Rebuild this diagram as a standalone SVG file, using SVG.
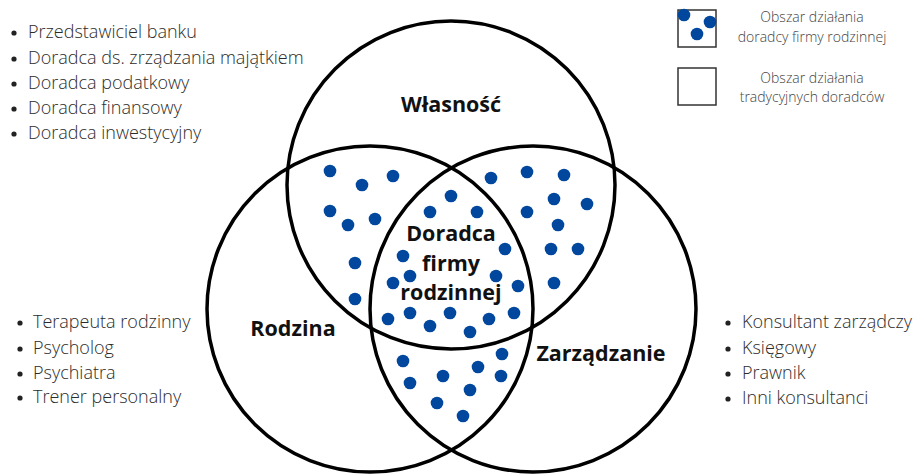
<svg xmlns="http://www.w3.org/2000/svg" width="913" height="475" viewBox="0 0 913 475">
<style>
.c{fill:none;stroke:#000;stroke-width:3.5}
.d{fill:#00479d}
.lst{font-family:"Open Sans","Liberation Sans",sans-serif;font-size:18px;font-weight:300;fill:#2b2b2b}
.b{fill:#222}
.lbl{font-family:"Open Sans","Liberation Sans",sans-serif;font-size:21.5px;font-weight:bold;fill:#111;text-anchor:middle}
.lg{font-family:"Open Sans","Liberation Sans",sans-serif;font-size:14px;font-weight:300;fill:#444;text-anchor:middle}
.box{fill:#fff;stroke:#333;stroke-width:1.5}
</style>
<defs><circle id="dot" r="6.3" class="d"/></defs>
<g id="circles">
<circle id="wlasnosc" class="c" cx="451" cy="185" r="164"/>
<circle id="rodzina" class="c" cx="370" cy="309" r="163"/>
<circle id="zarzadzanie" class="c" cx="533" cy="309" r="163"/>
</g>
<g id="dots">
<use href="#dot" x="330" y="171"/><use href="#dot" x="362" y="185"/><use href="#dot" x="393" y="176"/>
<use href="#dot" x="330" y="211"/><use href="#dot" x="348" y="225"/><use href="#dot" x="375" y="219"/>
<use href="#dot" x="355" y="263"/><use href="#dot" x="355" y="299"/>
<use href="#dot" x="451" y="196"/><use href="#dot" x="430" y="212"/><use href="#dot" x="477" y="212"/>
<use href="#dot" x="505" y="249"/><use href="#dot" x="403" y="256"/><use href="#dot" x="410" y="276"/>
<use href="#dot" x="393" y="283"/><use href="#dot" x="496" y="276"/><use href="#dot" x="518" y="286"/>
<use href="#dot" x="388" y="319"/><use href="#dot" x="410" y="313"/><use href="#dot" x="430" y="326"/>
<use href="#dot" x="450" y="313"/><use href="#dot" x="470" y="332"/><use href="#dot" x="489" y="319"/>
<use href="#dot" x="514" y="313"/>
<use href="#dot" x="491" y="178"/><use href="#dot" x="527" y="172"/><use href="#dot" x="564" y="175"/>
<use href="#dot" x="554" y="199"/><use href="#dot" x="587" y="204"/><use href="#dot" x="527" y="212"/>
<use href="#dot" x="558" y="225"/><use href="#dot" x="551" y="249"/><use href="#dot" x="578" y="249"/>
<use href="#dot" x="554" y="283"/>
<use href="#dot" x="403" y="361"/><use href="#dot" x="502" y="354"/><use href="#dot" x="478" y="367"/>
<use href="#dot" x="410" y="383"/><use href="#dot" x="443" y="376"/><use href="#dot" x="501" y="376"/>
<use href="#dot" x="470" y="390"/><use href="#dot" x="437" y="403"/><use href="#dot" x="463" y="416"/>
</g>
<g id="labels">
<text class="lbl" x="451" y="112">Własność</text>
<text class="lbl" x="451" y="241">Doradca</text>
<text class="lbl" x="451" y="271">firmy</text>
<text class="lbl" x="451" y="300">rodzinnej</text>
<text class="lbl" x="293" y="336">Rodzina</text>
<text class="lbl" x="601" y="361">Zarządzanie</text>
</g>
<g id="list-wlasnosc" class="lst">
<circle class="b" cx="14" cy="33" r="2.6"/><text x="28" y="38">Przedstawiciel banku</text>
<circle class="b" cx="14" cy="59" r="2.6"/><text x="28" y="64">Doradca ds. zrządzania majątkiem</text>
<circle class="b" cx="14" cy="84" r="2.6"/><text x="28" y="89">Doradca podatkowy</text>
<circle class="b" cx="14" cy="109" r="2.6"/><text x="28" y="114">Doradca finansowy</text>
<circle class="b" cx="14" cy="134" r="2.6"/><text x="28" y="139">Doradca inwestycyjny</text>
</g>
<g id="list-rodzina" class="lst">
<circle class="b" cx="20" cy="323" r="2.6"/><text x="33" y="328">Terapeuta rodzinny</text>
<circle class="b" cx="20" cy="349" r="2.6"/><text x="33" y="354">Psycholog</text>
<circle class="b" cx="20" cy="374" r="2.6"/><text x="33" y="379">Psychiatra</text>
<circle class="b" cx="20" cy="398" r="2.6"/><text x="33" y="403">Trener personalny</text>
</g>
<g id="list-zarzadzanie" class="lst">
<circle class="b" cx="728" cy="323" r="2.6"/><text x="742" y="328">Konsultant zarządczy</text>
<circle class="b" cx="728" cy="349" r="2.6"/><text x="742" y="354">Księgowy</text>
<circle class="b" cx="728" cy="374" r="2.6"/><text x="742" y="379">Prawnik</text>
<circle class="b" cx="728" cy="399" r="2.6"/><text x="742" y="404">Inni konsultanci</text>
</g>
<g id="legend-doradca">
<rect class="box" x="678" y="10" width="38" height="37"/>
<use href="#dot" x="684" y="15"/><use href="#dot" x="710" y="22"/><use href="#dot" x="697" y="34"/>
<text class="lg" x="812" y="22">Obszar działania</text>
<text class="lg" x="812" y="42">doradcy firmy rodzinnej</text>
</g>
<g id="legend-tradycyjni">
<rect class="box" x="678" y="68" width="38" height="37"/>
<text class="lg" x="812" y="83">Obszar działania</text>
<text class="lg" x="812" y="102">tradycyjnych doradców</text>
</g>
</svg>
